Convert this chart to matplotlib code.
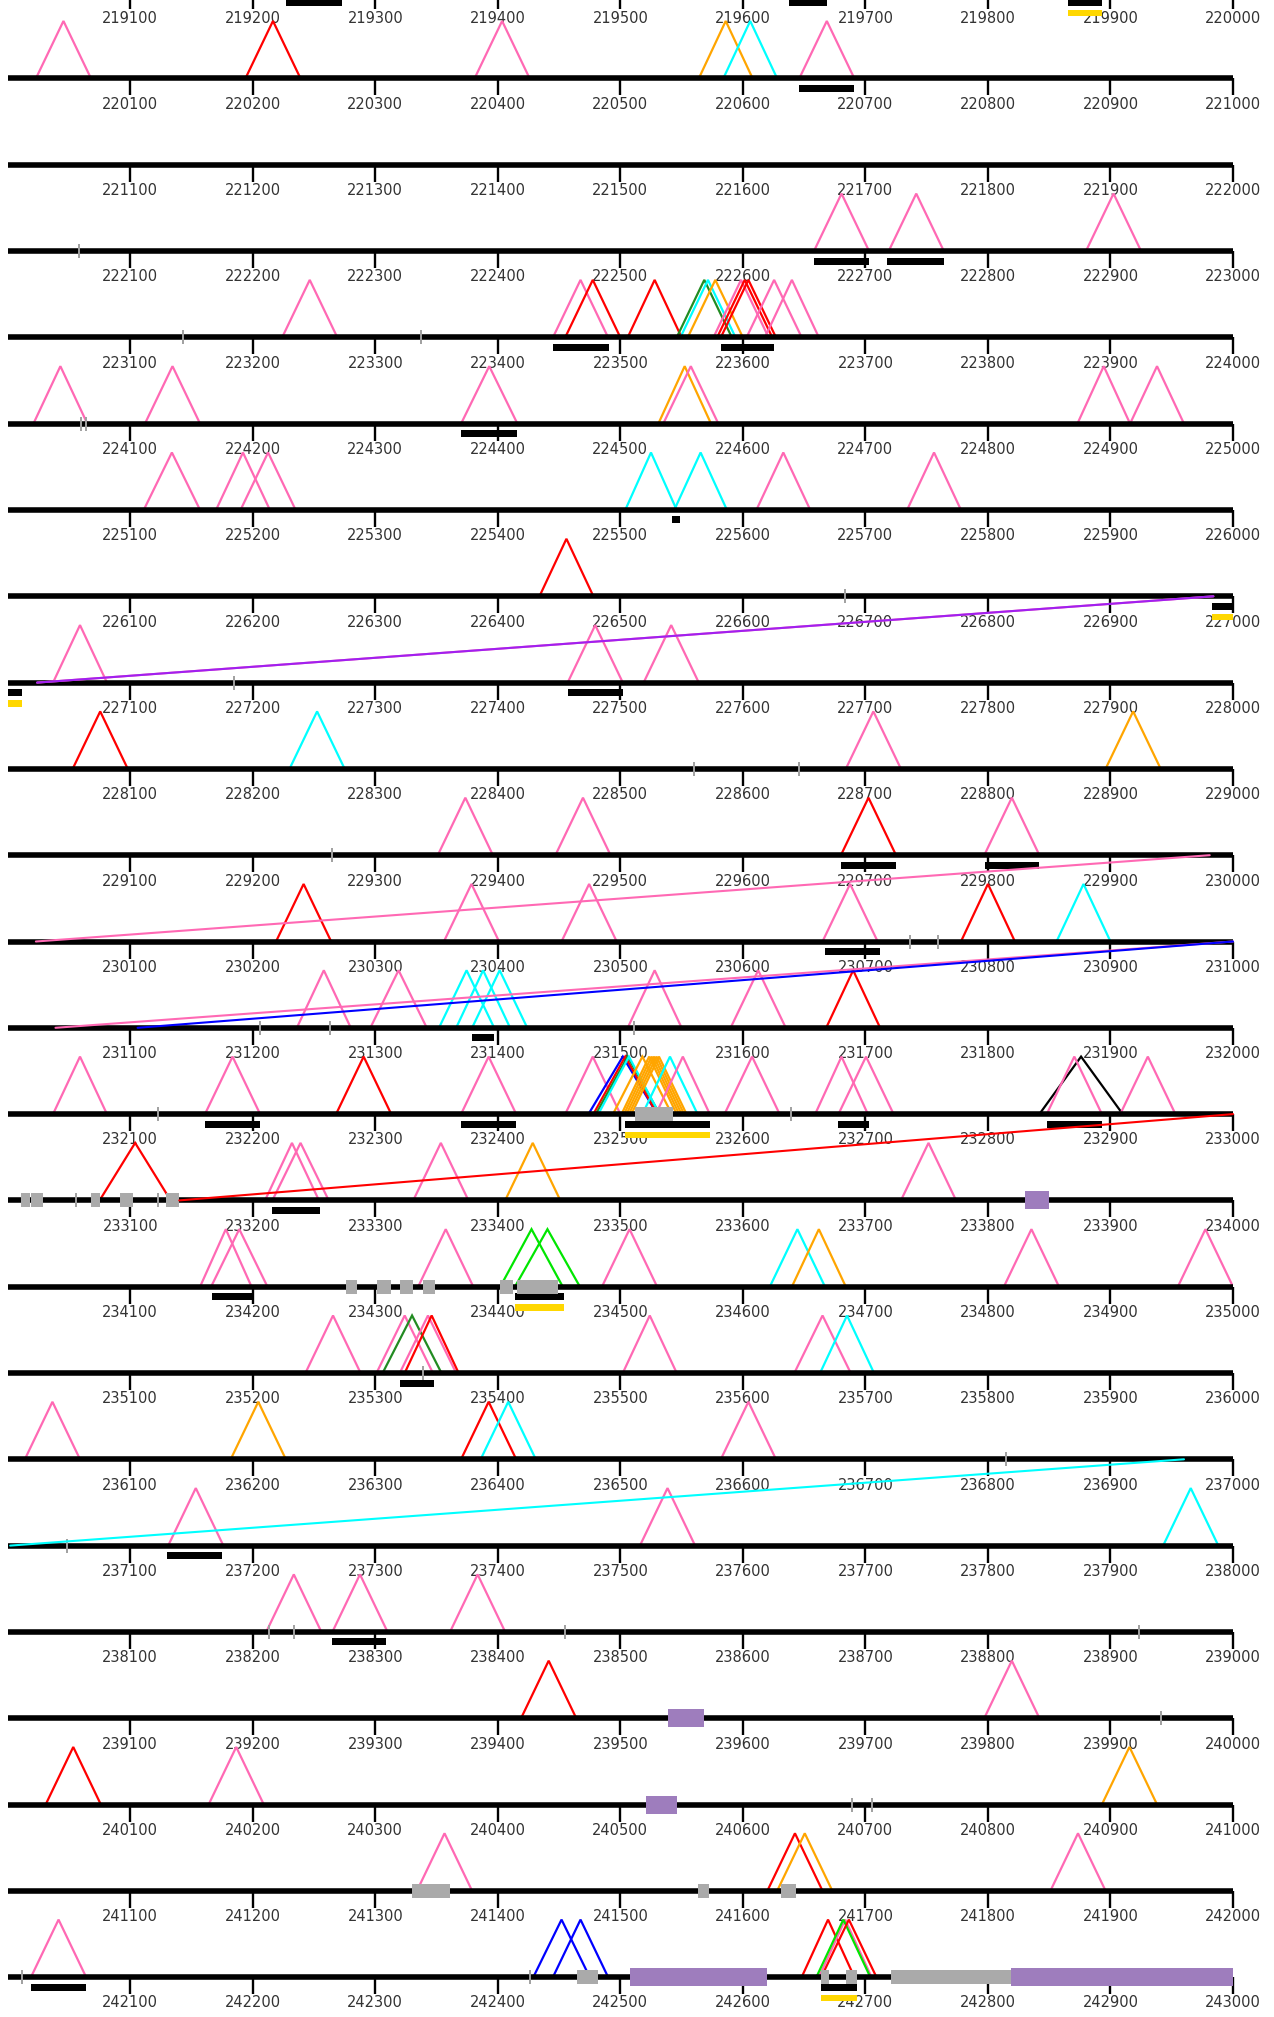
import matplotlib
matplotlib.use("Agg")
import matplotlib.pyplot as plt
from matplotlib.patches import Rectangle, ConnectionPatch

# genome windows, one per line of the track (bp)
row_starts = list(range(219000, 243000, 1000))

colors = {
    "pink": "#ff69b4", "red": "#ff0000", "orange": "#ffa500", "cyan": "#00ffff",
    "blue": "#0000ff", "lime": "#00e600", "dkgreen": "#228b22", "black": "#000000",
    "purple": "#a020f0",
}

# arcs drawn as triangles: (start, end, colour)
triangles = [
    (220023, 220068, "pink"), (220194, 220239, "red"), (220381, 220426, "pink"),
    (220564, 220608, "orange"), (220584, 220628, "cyan"), (220646, 220691, "pink"),
    (222658, 222703, "pink"), (222719, 222764, "pink"), (222880, 222925, "pink"),
    (223224, 223269, "pink"), (223445, 223490, "pink"), (223455, 223500, "red"),
    (223506, 223550, "red"), (223546, 223591, "dkgreen"), (223549, 223594, "cyan"),
    (223555, 223600, "orange"), (223576, 223621, "pink"), (223579, 223624, "red"),
    (223582, 223627, "red"), (223603, 223648, "pink"), (223618, 223662, "pink"),
    (224021, 224065, "pink"), (224112, 224157, "pink"), (224370, 224416, "pink"),
    (224531, 224574, "orange"), (224535, 224580, "pink"), (224873, 224916, "pink"),
    (224916, 224960, "pink"),
    (225111, 225157, "pink"), (225170, 225214, "pink"), (225190, 225235, "pink"),
    (225504, 225546, "cyan"), (225544, 225587, "cyan"), (225611, 225655, "pink"),
    (225734, 225778, "pink"),
    (226434, 226478, "red"),
    (227037, 227081, "pink"), (227457, 227502, "pink"), (227519, 227564, "pink"),
    (228053, 228098, "red"), (228230, 228275, "cyan"), (228684, 228729, "pink"),
    (228896, 228941, "orange"),
    (229351, 229396, "pink"), (229447, 229492, "pink"), (229680, 229725, "red"),
    (229797, 229842, "pink"),
    (230219, 230264, "red"), (230356, 230401, "pink"), (230452, 230497, "pink"),
    (230665, 230710, "pink"), (230778, 230822, "red"), (230856, 230900, "cyan"),
    (231236, 231280, "pink"), (231296, 231342, "pink"), (231352, 231397, "cyan"),
    (231366, 231410, "cyan"), (231379, 231424, "cyan"), (231506, 231550, "pink"),
    (231590, 231635, "pink"), (231668, 231712, "red"),
    (232037, 232081, "pink"), (232161, 232206, "pink"), (232268, 232313, "red"),
    (232370, 232415, "pink"), (232455, 232500, "pink"), (232474, 232530, "blue"),
    (232478, 232530, "red"), (232480, 232532, "dkgreen"), (232482, 232532, "cyan"),
    (232494, 232542, "orange"), (232501, 232546, "orange"), (232503, 232548, "orange"),
    (232505, 232550, "orange"), (232507, 232552, "orange"), (232509, 232554, "orange"),
    (232518, 232563, "cyan"), (232529, 232573, "pink"),
    (232585, 232630, "pink"), (232659, 232702, "pink"), (232678, 232723, "pink"),
    (232842, 232910, "black"), (232848, 232893, "pink"), (232908, 232953, "pink"),
    (233075, 233133, "red"), (233210, 233254, "pink"), (233216, 233262, "pink"),
    (233331, 233376, "pink"), (233406, 233451, "orange"), (233729, 233774, "pink"),
    (234157, 234199, "pink"), (234166, 234212, "pink"), (234335, 234380, "pink"),
    (234402, 234453, "lime"), (234414, 234467, "lime"), (234485, 234530, "pink"),
    (234622, 234667, "cyan"), (234640, 234684, "orange"), (234813, 234858, "pink"),
    (234955, 235000, "pink"),
    (235243, 235288, "pink"), (235301, 235347, "pink"), (235306, 235354, "dkgreen"),
    (235320, 235366, "pink"), (235324, 235368, "red"), (235502, 235546, "pink"),
    (235642, 235688, "pink"), (235663, 235707, "cyan"),
    (236014, 236059, "pink"), (236182, 236227, "orange"), (236370, 236415, "red"),
    (236386, 236431, "cyan"), (236582, 236627, "pink"),
    (237131, 237176, "pink"), (237516, 237561, "pink"), (237943, 237988, "cyan"),
    (238211, 238256, "pink"), (238265, 238310, "pink"), (238361, 238406, "pink"),
    (239419, 239464, "red"), (239797, 239842, "pink"),
    (240031, 240076, "red"), (240164, 240209, "pink"), (240893, 240938, "orange"),
    (241334, 241379, "pink"), (241620, 241665, "red"), (241628, 241673, "orange"),
    (241851, 241896, "pink"),
    (242019, 242064, "pink"), (242429, 242475, "blue"), (242445, 242490, "blue"),
    (242648, 242691, "red"), (242662, 242705, "pink"), (242660, 242704, "lime"),
    (242664, 242709, "red"),
]

# black bars under the line
black_bars = [
    (219227, 219273), (219638, 219669), (219865, 219893), (220646, 220691),
    (222658, 222703), (222718, 222764), (223445, 223491), (223582, 223625),
    (224370, 224416), (225542, 225549), (226983, 227012), (227457, 227502),
    (229680, 229725), (229798, 229842), (230667, 230712), (231379, 231397),
    (232161, 232206), (232370, 232415), (232504, 232573), (232678, 232703),
    (232848, 232893), (233216, 233255), (234167, 234200), (234414, 234454),
    (235320, 235348), (237130, 237175), (238265, 238309), (242019, 242064),
    (242664, 242693),
]
# yellow bars below the black ones
yellow_bars = [(219865, 219893), (226983, 227012), (232504, 232573),
               (234414, 234454), (242664, 242693)]

gray_boxes = [
    (232512, 232543), (233011, 233018), (233019, 233029), (233068, 233075),
    (233092, 233102), (233129, 233140), (234276, 234285), (234301, 234313),
    (234320, 234331), (234339, 234349), (234402, 234412), (234416, 234449),
    (241330, 241361), (241563, 241572), (241631, 241643), (242465, 242482),
    (242664, 242670), (242684, 242693), (242721, 242819),
]
purple_boxes = [(233830, 233850), (239539, 239568), (240521, 240546),
                (242508, 242620), (242819, 243000)]

gray_ticks = [
    222058, 223143, 223337, 224060, 224064, 226683, 227185, 228560, 228646,
    229265, 230736, 230759, 231206, 231263, 231511, 232123, 232639, 233056,
    233123, 235339, 236815, 237048, 238213, 238234, 238455, 238923, 239941,
    240689, 240705, 242012, 242426,
]

# long links across a line break: (from, to, colour)
links = [
    (226984, 227024, "pink"), (226984, 227024, "purple"),
    (229981, 230023, "pink"),
    (231000, 231039, "pink"), (231000, 231106, "blue"),
    (233000, 233140, "red"),
    (236960, 237002, "cyan"),
]

W, H, DPI = 1274, 2017, 100
X0, XW = 7.7, 1225.3
Y_FIRST, GAP = 78.5 - 86.3, 86.3
UP, DOWN = 62, 30
TRI_H = 57.5

fig = plt.figure(figsize=(W / DPI, H / DPI), dpi=DPI)
axes = {}
for i, start in enumerate(row_starts):
    yb = Y_FIRST + GAP * i
    ax = fig.add_axes([X0 / W, 1 - (yb + DOWN) / H, XW / W, (UP + DOWN) / H])
    ax.patch.set_visible(False)
    ax.set_xlim(start, start + 1000)
    ax.set_ylim(-DOWN, UP)
    for s in ["top", "left", "right"]:
        ax.spines[s].set_visible(False)
    ax.spines["bottom"].set_position(("data", 0))
    ax.spines["bottom"].set_linewidth(4.0)
    ax.spines["bottom"].set_capstyle("butt")
    ticks = list(range(start + 100, start + 1001, 100))
    ax.set_xticks(ticks)
    ax.set_xticklabels([str(t) for t in ticks])
    ax.set_yticks([])
    ax.tick_params(axis="x", direction="out", length=12, width=1.7, pad=1.2,
                   labelsize=10.5, labelcolor="#333333", color="black")
    axes[start] = ax


def rows_for(s, e):
    return [r for r in row_starts if s < r + 1000 and e > r]


for s, e, c in triangles:
    for r in rows_for(s, e):
        axes[r].plot([s, (s + e) / 2, e], [0, TRI_H, 0], color=colors[c], lw=1.6,
                     solid_joinstyle="miter", zorder=2)

for s, e in black_bars:
    for r in rows_for(s, e):
        axes[r].add_patch(Rectangle((s, -13.5), e - s, 7, color="black", lw=0, zorder=3))
for s, e in yellow_bars:
    for r in rows_for(s, e):
        axes[r].add_patch(Rectangle((s, -24), e - s, 6.5, color="#ffd700", lw=0, zorder=3))
for s, e in gray_boxes:
    for r in rows_for(s, e):
        axes[r].add_patch(Rectangle((s, -7), e - s, 14, color="#aaaaaa", lw=0, zorder=4))
for s, e in purple_boxes:
    for r in rows_for(s, e):
        axes[r].add_patch(Rectangle((s, -9), e - s, 18, color="#9e7dbd", lw=0, zorder=4))
for p in gray_ticks:
    r = p // 1000 * 1000
    axes[r].plot([p, p], [-7, 7], color="#a0a0a0", lw=1.4, zorder=5,
                 solid_capstyle="butt")

for a, b, c in links:
    ra, rb = a // 1000 * 1000, b // 1000 * 1000
    if a % 1000 == 0:
        ra = ra - 1000
    con = ConnectionPatch(xyA=(a, 0), coordsA="data", axesA=axes[ra],
                          xyB=(b, 0), coordsB="data", axesB=axes[rb],
                          color=colors[c], lw=1.5, zorder=6)
    fig.add_artist(con)

fig.savefig("out.png", dpi=DPI)
